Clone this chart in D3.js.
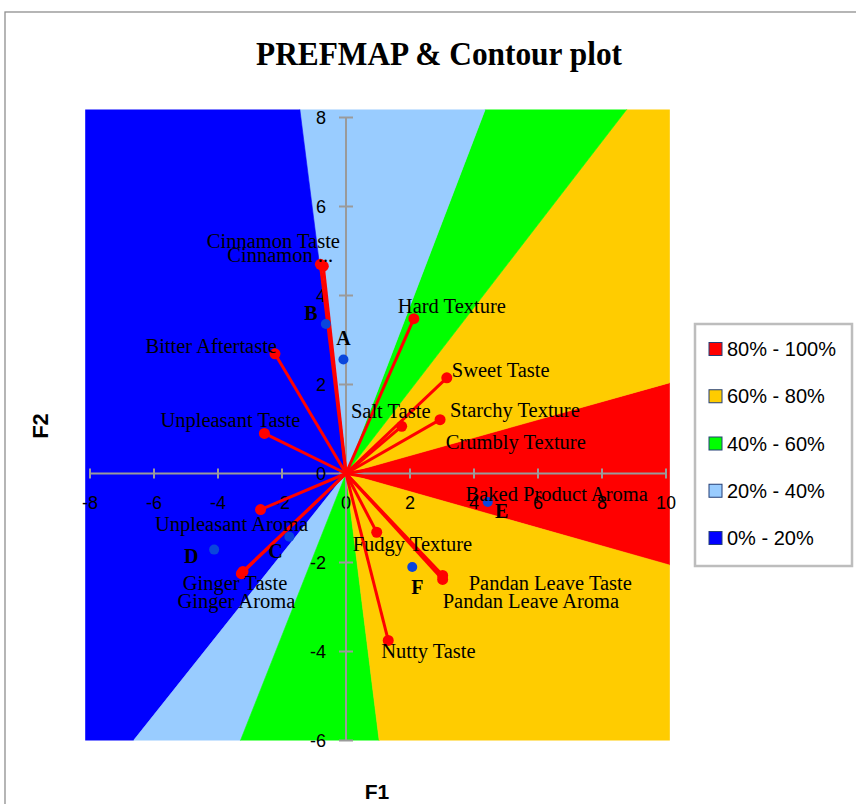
<!DOCTYPE html>
<html>
<head>
<meta charset="utf-8">
<script src="https://cdn.jsdelivr.net/npm/d3@7"></script>
<style>
  html, body { margin: 0; padding: 0; background: #fff; }
  svg { display: block; }
</style>
</head>
<body>
<svg id="chart" width="856" height="804"></svg>
<script>
// ---------------- data ----------------
const chartTitle = "PREFMAP & Contour plot";
const xTicks = [-8, -6, -4, -2, 0, 2, 4, 6, 8, 10];
const yTicks = [-6, -4, -2, 0, 2, 4, 6, 8];

// contour bands (legend order)
const bandLabels = ["80% - 100%", "60% - 80%", "40% - 60%", "20% - 40%", "0% - 20%"];
const bandColors = ["#ff0000", "#ffcc00", "#00ff00", "#99ccff", "#0000ff"];

// angular sectors (degrees, counter-clockwise from +F1) and the band they belong to
const sectorBand = [0, 1, 2, 3, 4, 3, 2, 1];
const sectorFrom = [-11.5, 11.4, 43.0, 62.0, 100.0, 222.1, 241.2, 279.8];
const sectorTo   = [11.4, 43.0, 62.0, 100.0, 222.1, 241.2, 279.8, 348.5];
const contourX = [-8.15, 10.12];
const contourY = [-6, 8.18];

// attribute vectors
const attrNames = ["Cinnamon Taste", "Cinnamon ...", "Hard Texture", "Bitter Aftertaste",
  "Unpleasant Taste", "Unpleasant Aroma", "Ginger Taste", "Ginger Aroma", "Salt Taste",
  "Sweet Taste", "Starchy Texture", "Crumbly Texture", "Baked Product Aroma",
  "Fudgy Texture", "Pandan Leave Taste", "Pandan Leave Aroma", "Nutty Taste"];
const attrX = [-0.80, -0.71, 2.12, -2.22, -2.55, -2.67, -3.22, -3.27, 1.74,
  3.15, 2.94, 2.90, 3.80, 0.96, 3.02, 3.02, 1.32];
const attrY = [4.70, 4.66, 3.48, 2.69, 0.90, -0.81, -2.20, -2.25, 1.06,
  2.15, 1.21, 0.35, -0.45, -1.32, -2.29, -2.38, -3.75];

// products
const prodNames = ["A", "B", "C", "D", "E", "F"];
const prodX = [-0.08, -0.63, -1.77, -4.12, 4.43, 2.07];
const prodY = [2.56, 3.36, -1.42, -1.71, -0.64, -2.10];

// ---------------- layout (pixels) ----------------
const attrLabelPos = [ // [dx, dy, anchor]
  [-47, -16, "middle"], [-43, -4, "middle"], [-16, -6, "start"], [2, -1, "end"],
  [-34, -6, "middle"], [-29, 21, "middle"], [-8, 19, "middle"], [-5, 34, "middle"],
  [-11, -8, "middle"], [5, -1, "start"], [10, -3, "start"], [7, -9, "start"],
  [-2, 7, "start"], [-24, 19, "start"], [26, 15, "start"], [0, 29, "start"],
  [-7, 18, "start"]];
const prodLabelPos = [[0, -15], [-15, -4], [-14, 21], [-23, 13], [14, 16], [5, 27]];

const svg = d3.select("#chart");
const x = d3.scaleLinear().domain([-8, 10]).range([90, 666]);
const y = d3.scaleLinear().domain([-6, 8]).range([740.5, 117.5]);

// outer frame
svg.append("rect").attr("x", 5).attr("y", 12).attr("width", 900).attr("height", 900)
  .attr("fill", "none").attr("stroke", "#8f8f8f").attr("stroke-width", 1.3);

// title
svg.append("text").attr("x", 439).attr("y", 65).attr("text-anchor", "middle")
  .attr("font-family", "Liberation Serif, Times New Roman, serif")
  .attr("font-weight", "bold").attr("font-size", 33)
  .attr("textLength", 366).attr("lengthAdjust", "spacingAndGlyphs")
  .text(chartTitle);

// clip for contours
svg.append("clipPath").attr("id", "plotclip").append("rect")
  .attr("x", x(contourX[0])).attr("y", y(contourY[1]))
  .attr("width", x(contourX[1]) - x(contourX[0]))
  .attr("height", y(contourY[0]) - y(contourY[1]));

const R = 80;
const sectors = sectorBand.map((b, i) => {
  const pts = [[x(0), y(0)]];
  const a0 = sectorFrom[i], a1 = sectorTo[i];
  const n = Math.max(2, Math.ceil((a1 - a0) / 10));
  for (let k = 0; k <= n; k++) {
    const a = (a0 + (a1 - a0) * k / n) * Math.PI / 180;
    pts.push([x(R * Math.cos(a)), y(R * Math.sin(a))]);
  }
  return { band: b, pts };
});
svg.append("g").attr("clip-path", "url(#plotclip)")
  .selectAll("path").data(sectors).join("path")
  .attr("d", d => "M" + d.pts.map(p => p.join(",")).join("L") + "Z")
  .attr("fill", d => bandColors[d.band])
  .attr("stroke", d => bandColors[d.band]).attr("stroke-width", 0.6);

// axes
const axisColor = "#9a9a9a";
const gx = svg.append("g").attr("transform", `translate(0,${y(0)})`);
gx.append("line").attr("x1", x(-8)).attr("x2", x(10)).attr("stroke", axisColor).attr("stroke-width", 2);
gx.selectAll("line.t").data(xTicks).join("line").attr("class", "t")
  .attr("x1", d => x(d)).attr("x2", d => x(d)).attr("y1", -5).attr("y2", 5)
  .attr("stroke", axisColor).attr("stroke-width", 2);
gx.selectAll("text").data(xTicks).join("text")
  .attr("x", d => x(d)).attr("y", 35).attr("text-anchor", "middle")
  .attr("font-family", "Liberation Sans, Arial, sans-serif").attr("font-size", 18)
  .text(d => d);

const gy = svg.append("g").attr("transform", `translate(${x(0)},0)`);
gy.append("line").attr("y1", y(-6)).attr("y2", y(8)).attr("stroke", axisColor).attr("stroke-width", 2);
gy.selectAll("line.t").data(yTicks).join("line").attr("class", "t")
  .attr("y1", d => y(d)).attr("y2", d => y(d)).attr("x1", -7).attr("x2", 7)
  .attr("stroke", axisColor).attr("stroke-width", 2);
gy.selectAll("text").data(yTicks).join("text")
  .attr("x", -20).attr("y", d => y(d) + 6.5).attr("text-anchor", "end")
  .attr("font-family", "Liberation Sans, Arial, sans-serif").attr("font-size", 18)
  .text(d => d);

// vectors
const attrs = attrNames.map((n, i) => ({ n, vx: attrX[i], vy: attrY[i], pos: attrLabelPos[i] }));
svg.append("g").selectAll("line").data(attrs).join("line")
  .attr("x1", x(0)).attr("y1", y(0))
  .attr("x2", d => x(d.vx)).attr("y2", d => y(d.vy))
  .attr("stroke", "#ff0000").attr("stroke-width", 3);
svg.append("g").selectAll("circle").data(attrs).join("circle")
  .attr("cx", d => x(d.vx)).attr("cy", d => y(d.vy)).attr("r", 5.5)
  .attr("fill", "#ff0000");

// products
const prods = prodNames.map((n, i) => ({ n, px: prodX[i], py: prodY[i], pos: prodLabelPos[i] }));
svg.append("g").selectAll("circle").data(prods).join("circle")
  .attr("cx", d => x(d.px)).attr("cy", d => y(d.py)).attr("r", 5)
  .attr("fill", "#0a46dc");

// labels
svg.append("g").selectAll("text").data(attrs).join("text")
  .attr("x", d => x(d.vx) + d.pos[0]).attr("y", d => y(d.vy) + d.pos[1])
  .attr("text-anchor", d => d.pos[2])
  .attr("font-family", "Liberation Serif, Times New Roman, serif").attr("font-size", 20.5)
  .text(d => d.n);
svg.append("g").selectAll("text").data(prods).join("text")
  .attr("x", d => x(d.px) + d.pos[0]).attr("y", d => y(d.py) + d.pos[1])
  .attr("text-anchor", "middle").attr("font-weight", "bold")
  .attr("font-family", "Liberation Serif, Times New Roman, serif").attr("font-size", 20)
  .text(d => d.n);

// axis titles
svg.append("text").attr("x", 377).attr("y", 799).attr("text-anchor", "middle")
  .attr("font-family", "Liberation Sans, Arial, sans-serif").attr("font-weight", "bold")
  .attr("font-size", 21).text("F1");
svg.append("text").attr("transform", "translate(48,426) rotate(-90)").attr("text-anchor", "middle")
  .attr("font-family", "Liberation Sans, Arial, sans-serif").attr("font-weight", "bold")
  .attr("font-size", 22).text("F2");

// legend
const lg = svg.append("g");
lg.append("rect").attr("x", 695).attr("y", 324).attr("width", 157).attr("height", 242)
  .attr("fill", "#fff").attr("stroke", "#bdbdbd").attr("stroke-width", 2.5);
const items = lg.selectAll("g.item").data(bandLabels).join("g").attr("class", "item")
  .attr("transform", (d, i) => `translate(0,${349 + i * 47.25})`);
items.append("rect").attr("x", 709).attr("y", -6.5).attr("width", 13).attr("height", 13)
  .attr("fill", (d, i) => bandColors[i]).attr("stroke", "#243f77").attr("stroke-width", 1);
items.append("text").attr("x", 727).attr("y", 7)
  .attr("font-family", "Liberation Sans, Arial, sans-serif").attr("font-size", 20)
  .text(d => d);
</script>
</body>
</html>
